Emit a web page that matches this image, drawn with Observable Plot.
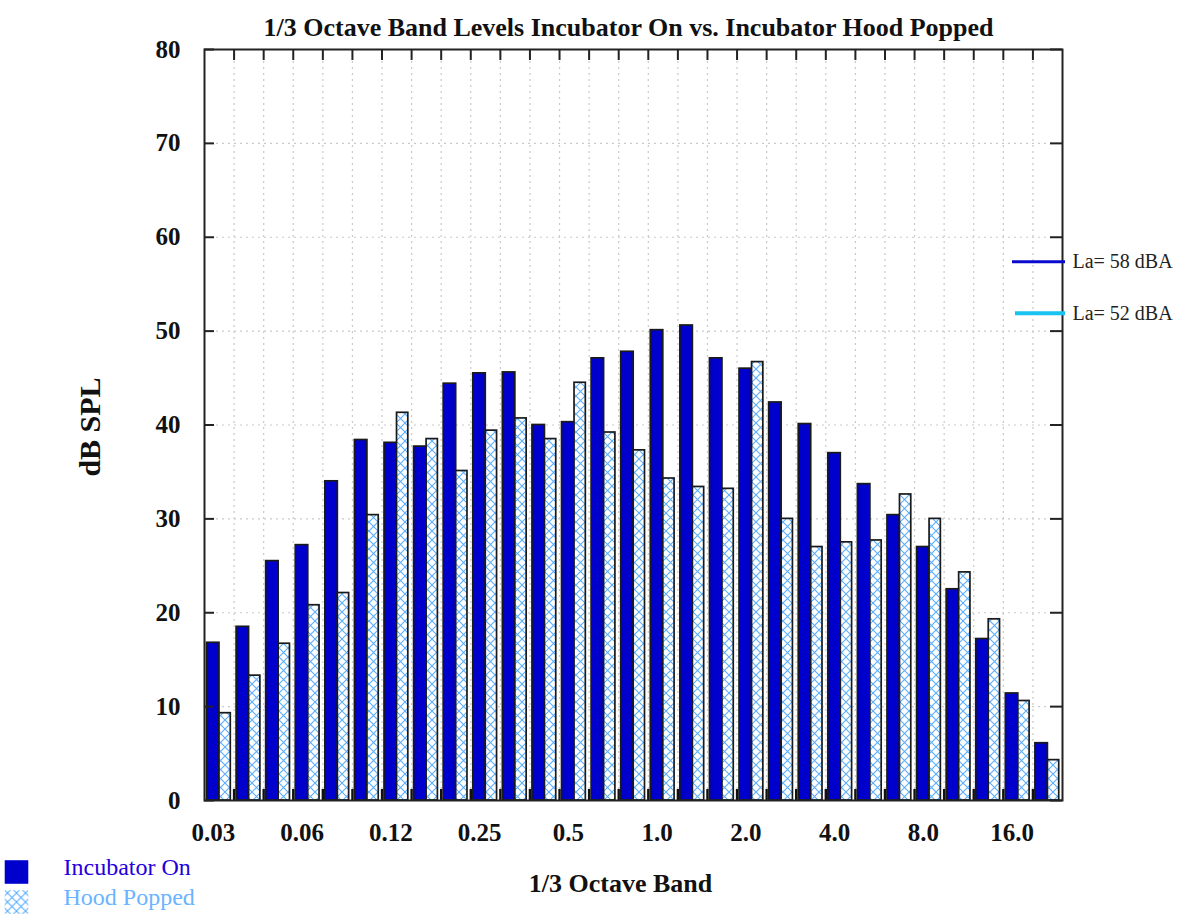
<!DOCTYPE html>
<html>
<head>
<meta charset="utf-8">
<script src="https://cdn.jsdelivr.net/npm/d3@7"></script>
<script src="https://cdn.jsdelivr.net/npm/@observablehq/plot@0.6"></script>
<style>
  body { margin: 0; background: #fff; }
  #chart { position: relative; width: 1182px; height: 915px; }
</style>
</head>
<body>
<svg width="0" height="0" style="position:absolute">
  <defs>
    <pattern id="hatch" patternUnits="userSpaceOnUse" width="9" height="9">
      <rect width="9" height="9" fill="#ffffff"/>
      <path d="M0,0 L9,9 M9,0 L0,9" stroke="#5aaeff" stroke-width="1.1"/>
    </pattern>
  </defs>
</svg>
<div id="chart"></div>
<script>
// 1/3 octave band centre frequencies (kHz)
const bands = ["0.031","0.04","0.05","0.063","0.08","0.1","0.125","0.16","0.2","0.25",
  "0.315","0.4","0.5","0.63","0.8","1.0","1.25","1.6","2.0","2.5",
  "3.15","4.0","5.0","6.3","8.0","10","12.5","16","20"];
const incubatorOn = [16.8,18.5,25.5,27.2,34.0,38.4,38.1,37.7,44.4,45.5,
  45.6,40.0,40.3,47.1,47.8,50.1,50.6,47.1,46.0,42.4,
  40.1,37.0,33.7,30.4,27.0,22.5,17.2,11.4,6.1];
const hoodPopped = [9.3,13.3,16.7,20.8,22.1,30.4,41.3,38.5,35.1,39.4,
  40.7,38.5,44.5,39.2,37.3,34.3,33.4,33.2,46.7,30.0,
  27.0,27.5,27.7,32.6,30.0,24.3,19.3,10.6,4.3];
const tickBands = ["0.031","0.063","0.125","0.25","0.5","1.0","2.0","4.0","8.0","16"];
const tickLabels = ["0.03","0.06","0.12","0.25","0.5","1.0","2.0","4.0","8.0","16.0"];
const yTicks = [0,10,20,30,40,50,60,70,80];
const laLevels = [57.4, 51.9];
const laLabels = ["La= 58 dBA", "La= 52 dBA"];
const laColors = ["#0a0acc", "#19c3ef"];
const seriesNames = ["Incubator On", "Hood Popped"];

const rows = bands.map((b, i) => ({band: b, on: incubatorOn[i], hood: hoodPopped[i]}));

const W = 1182, H = 915;
const mL = 204, mR = 120, mT = 49, mB = 115;
const fw = W - mL - mR, fh = H - mT - mB;
const bw = fw / bands.length;
const serif = "Liberation Serif, Times New Roman, serif";

const chart = Plot.plot({
  width: W, height: H,
  marginLeft: mL, marginRight: mR, marginTop: mT, marginBottom: mB,
  style: {background: "#fff", overflow: "visible", fontFamily: serif},
  x: {type: "band", domain: bands, padding: 0, round: false, axis: null},
  y: {domain: [0, 80], axis: null},
  marks: [
    // grid
    Plot.ruleY(yTicks.slice(1, -1), {stroke: "#c9c9c9", strokeDasharray: "2,4", strokeWidth: 1.2}),
    Plot.ruleX(bands.slice(0, -1), {dx: bw / 2, stroke: "#c9c9c9", strokeDasharray: "2,4", strokeWidth: 1.2}),
    // bars
    Plot.barY(rows, {x: "band", y: "on", fill: "#0000cc", stroke: "#1a1a1a", strokeWidth: 1.7, insetLeft: 2.5, insetRight: 14.6}),
    Plot.barY(rows, {x: "band", y: "hood", fill: "url(#hatch)", stroke: "#1a1a1a", strokeWidth: 1.7, insetLeft: 15, insetRight: 3.3}),
    // ticks on frame
    Plot.ruleX(bands.slice(0, -1), {dx: bw / 2, insetBottom: fh - 11, stroke: "#222", strokeWidth: 2}),
    Plot.ruleX(bands.slice(0, -1), {dx: bw / 2, insetTop: fh - 11, stroke: "#111", strokeWidth: 2.4}),
    Plot.ruleY(yTicks, {insetRight: fw - 10, stroke: "#222", strokeWidth: 2}),
    Plot.ruleY(yTicks, {insetLeft: fw - 12, stroke: "#222", strokeWidth: 2}),
    Plot.frame({stroke: "#222", strokeWidth: 2}),
    // y tick labels
    Plot.text(yTicks, {y: d => d, text: d => String(d), frameAnchor: "left", textAnchor: "end", dx: -24,
      fontSize: 25, fontWeight: "bold", fontFamily: serif, fill: "#111"}),
    // x tick labels
    Plot.text(tickBands, {x: d => d, text: (d, i) => tickLabels[i], frameAnchor: "bottom", dy: 40, dx: -6,
      fontSize: 25, fontWeight: "bold", fontFamily: serif, fill: "#111"}),
    // axis labels
    Plot.text(["dB SPL"], {frameAnchor: "left", textAnchor: "middle", dx: -114, dy: 2, rotate: -90, fontSize: 30,
      fontWeight: "bold", fontFamily: serif, fill: "#111"}),
    Plot.text(["1/3 Octave Band"], {frameAnchor: "bottom", dy: 91, dx: -13, fontSize: 26, fontWeight: "bold",
      fontFamily: serif, fill: "#111"}),
    // title
    Plot.text(["1/3 Octave Band Levels Incubator On vs. Incubator Hood Popped"], {frameAnchor: "top", dy: -32, dx: -5,
      fontSize: 26, fontWeight: "bold", fontFamily: serif, fill: "#111"}),
    // La lines and labels
    Plot.ruleY([laLevels[0]], {insetLeft: fw - 50, insetRight: -3, stroke: laColors[0], strokeWidth: 3}),
    Plot.ruleY([laLevels[1]], {insetLeft: fw - 47, insetRight: -3, stroke: laColors[1], strokeWidth: 4}),
    Plot.text(laLevels, {y: d => d, text: (d, i) => laLabels[i], frameAnchor: "right", textAnchor: "start", dx: 10,
      fontSize: 20, fontFamily: serif, fill: "#222"}),
    // bottom-left legend
    Plot.dot([0], {frameAnchor: "bottom-left", dx: 16 - mL, dy: 71.5, symbol: "square", r: 13.3, fill: "#0000cc"}),
    Plot.dot([0], {frameAnchor: "bottom-left", dx: 16 - mL, dy: 101.5, symbol: "square", r: 13.3, fill: "url(#hatch)"}),
    Plot.text([seriesNames[0]], {frameAnchor: "bottom-left", dx: 63 - mL, dy: 74, textAnchor: "start", fontSize: 24,
      fontFamily: serif, fill: "#2200dd"}),
    Plot.text([seriesNames[1]], {frameAnchor: "bottom-left", dx: 63 - mL, dy: 104, textAnchor: "start", fontSize: 24,
      fontFamily: serif, fill: "#6ab4ff"})
  ]
});
document.getElementById("chart").appendChild(chart);
</script>
</body>
</html>
